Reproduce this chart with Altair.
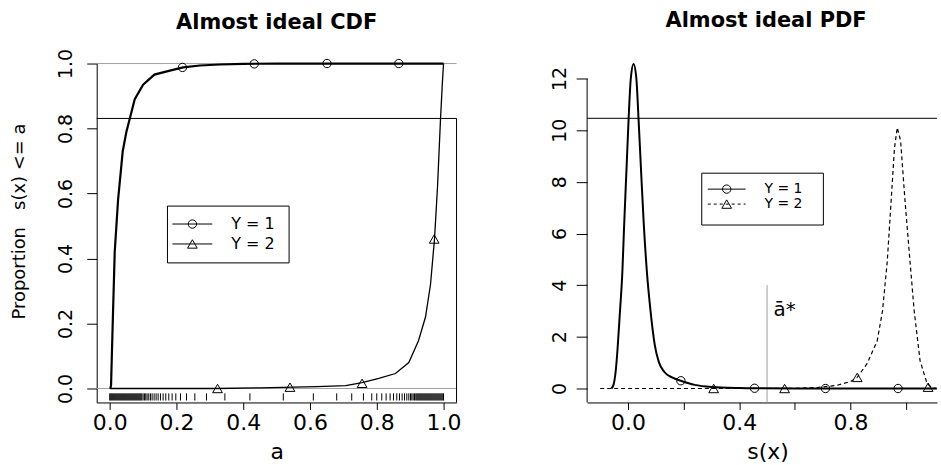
import altair as alt
import pandas as pd

FONT = "DejaVu Sans"

# ---------------- left panel: "Almost ideal CDF" ----------------
cdf_y1_a = [0.002, 0.004, 0.009, 0.015, 0.025, 0.039, 0.050, 0.060, 0.075, 0.100,
            0.134, 0.180, 0.220, 0.270, 0.330, 0.400, 0.500, 0.600, 0.700, 0.800,
            0.900, 1.000]
cdf_y1_v = [0.000, 0.010, 0.200, 0.420, 0.580, 0.730, 0.790, 0.830, 0.890, 0.935,
            0.966, 0.978, 0.988, 0.994, 0.997, 0.999, 1.000, 1.000, 1.000, 1.000,
            1.000, 1.000]
cdf_y2_a = [0.000, 0.320, 0.450, 0.550, 0.620, 0.707, 0.756, 0.806, 0.856, 0.896,
            0.925, 0.946, 0.961, 0.973, 0.982, 0.991, 0.996, 1.000]
cdf_y2_v = [0.000, 0.000, 0.002, 0.004, 0.006, 0.009, 0.018, 0.031, 0.046, 0.080,
            0.147, 0.220, 0.320, 0.460, 0.620, 0.830, 0.930, 1.000]
cdf_y1_mark_a = [0.218, 0.433, 0.651, 0.866]
cdf_y1_mark_v = [0.988, 0.999, 1.000, 1.000]
cdf_y2_mark_a = [0.323, 0.540, 0.756, 0.972]
cdf_y2_mark_v = [0.000, 0.004, 0.016, 0.460]
rug_a = [0.000, 0.003, 0.006, 0.009, 0.012, 0.015, 0.018, 0.021, 0.024, 0.027,
         0.030, 0.033, 0.036, 0.039, 0.042, 0.045, 0.048, 0.051, 0.054, 0.057,
         0.060, 0.063, 0.066, 0.069, 0.072, 0.075, 0.078, 0.081, 0.084, 0.087,
         0.090, 0.093, 0.096, 0.100, 0.104, 0.108, 0.112, 0.117, 0.122, 0.127,
         0.133, 0.139, 0.145, 0.152, 0.160, 0.168, 0.177, 0.187, 0.198, 0.212,
         0.230, 0.255, 0.290, 0.345, 0.420, 0.520, 0.610, 0.680, 0.725, 0.760,
         0.785, 0.800, 0.815, 0.828, 0.840, 0.850, 0.860, 0.868, 0.876, 0.883,
         0.890, 0.896, 0.901, 0.905, 0.909, 0.913, 0.917, 0.920, 0.923, 0.926,
         0.929, 0.932, 0.935, 0.938, 0.941, 0.944, 0.947, 0.950, 0.953, 0.956,
         0.959, 0.962, 0.965, 0.968, 0.971, 0.974, 0.977, 0.980, 0.983, 0.986,
         0.989, 0.992, 0.995, 0.998, 1.000]
cdf_ticks = [0.0, 0.2, 0.4, 0.6, 0.8, 1.0]
cdf_gray_levels = [0.0, 1.0]
cdf_box_top = [0.831]
cdf_x_domain = [-0.039, 1.039]
cdf_y_domain = [-0.043, 1.0]

# ---------------- right panel: "Almost ideal PDF" ----------------
pdf_y1_s = [-0.060, -0.052, -0.045, -0.038, -0.030, -0.020, -0.014, -0.005, 0.002, 0.010,
            0.020, 0.030, 0.038, 0.048, 0.057, 0.068, 0.080, 0.096, 0.110, 0.130,
            0.160, 0.190, 0.240, 0.300, 0.400, 0.460, 0.600, 0.800, 1.000, 1.110]
pdf_y1_v = [0.00, 0.15, 0.60, 1.47, 2.80, 4.60, 6.30, 8.60, 10.40, 12.00,
            12.56, 12.00, 10.40, 8.20, 6.30, 4.50, 3.10, 1.70, 1.05, 0.65,
            0.42, 0.30, 0.14, 0.06, 0.02, 0.01, 0.00, 0.00, 0.00, 0.00]
pdf_y2_s = [-0.100, 0.400, 0.500, 0.600, 0.680, 0.750, 0.800, 0.824, 0.860, 0.896,
            0.915, 0.932, 0.946, 0.958, 0.968, 0.980, 0.996, 1.014, 1.029, 1.050,
            1.075, 1.090, 1.110]
pdf_y2_v = [0.00, 0.00, 0.00, 0.01, 0.04, 0.12, 0.27, 0.43, 0.97, 1.85,
            3.00, 4.90, 7.26, 9.30, 10.10, 9.60, 7.26, 4.90, 3.00, 1.08,
            0.20, 0.05, 0.00]
pdf_y1_mark_s = [0.190, 0.455, 0.710, 0.971]
pdf_y1_mark_v = [0.30, 0.01, 0.00, 0.00]
pdf_y2_mark_s = [0.308, 0.563, 0.824, 1.079]
pdf_y2_mark_v = [0.00, 0.00, 0.43, 0.05]
pdf_x_ticks = [0.0, 0.2, 0.4, 0.6, 0.8, 1.0]
pdf_y_ticks = [0, 2, 4, 6, 8, 10, 12]
pdf_axis_span = [-0.54, 12.0]
pdf_box_top = [10.46]
a_star = [0.5]
a_star_top = [4.0]
a_star_label = ["ā*"]
a_star_label_pos = [0.523, 2.82]
pdf_x_domain = [-0.147, 1.111]
pdf_y_domain = [-0.54, 12.58]

legend_labels = ["Y = 1", "Y = 2"]


def one_row():
    return alt.Data(values=[{"k": 0}])


def legend_layers(box, rows, line_x, mark_x, text_x, dashes, font_size):
    """Legend drawn inside the plot area (pixel layout)."""
    layers = [
        alt.Chart(one_row()).mark_rect(fill="white", stroke="black", strokeWidth=1).encode(
            x=alt.value(box[0]), x2=alt.value(box[2]), y=alt.value(box[1]), y2=alt.value(box[3]))
    ]
    shapes = ["circle", "triangle-up"]
    sizes = [70, 95]
    for i, lab in enumerate(legend_labels):
        rule_kw = dict(color="black", strokeWidth=1)
        if dashes[i]:
            rule_kw["strokeDash"] = dashes[i]
        layers.append(alt.Chart(one_row()).mark_rule(**rule_kw).encode(
            x=alt.value(line_x[0]), x2=alt.value(line_x[1]), y=alt.value(rows[i])))
        layers.append(alt.Chart(one_row()).mark_point(
            shape=shapes[i], filled=False, size=sizes[i], color="black", strokeWidth=1, opacity=1).encode(
            x=alt.value(mark_x), y=alt.value(rows[i])))
        layers.append(alt.Chart(one_row()).mark_text(
            align="left", baseline="middle", font=FONT, fontSize=font_size, color="black").encode(
            x=alt.value(text_x), y=alt.value(rows[i]), text=alt.value(lab)))
    return layers


# ---------- left chart ----------
lx = alt.Scale(domain=cdf_x_domain, nice=False, zero=False)
ly = alt.Scale(domain=cdf_y_domain, nice=False, zero=False)
lax = alt.Axis(values=cdf_ticks, format=".1f", title="a", tickSize=7, labelPadding=3,
               titlePadding=8, labelFontSize=22, titleFontSize=22, labelFlush=False,
               labelOverlap=False, grid=False)
lay = alt.Axis(values=cdf_ticks, format=".1f", title="Proportion\u00a0\u00a0\u00a0s(x) <= a",
               tickSize=10, labelAngle=270, labelAlign="center", labelBaseline="alphabetic",
               labelPadding=15, labelFontSize=19, titleFontSize=18, titleAngle=270,
               titleAlign="center", titleBaseline="alphabetic", titleX=-72, titleY=158,
               labelFlush=False, labelOverlap=False, grid=False)


def LX(field):
    return alt.X(f"{field}:Q", scale=lx, axis=lax)


def LY(field):
    return alt.Y(f"{field}:Q", scale=ly, axis=lay)


gray_df = pd.DataFrame({"v": cdf_gray_levels})
left_gray = alt.Chart(gray_df).mark_rule(color="#a0a0a0", strokeWidth=1).encode(
    y=LY("v"), x=alt.XDatum(cdf_x_domain[0], type="quantitative", scale=lx, axis=lax),
    x2=alt.X2Datum(cdf_x_domain[1]))
left_top = alt.Chart(pd.DataFrame({"v": cdf_box_top})).mark_rule(color="black", strokeWidth=1).encode(
    y=LY("v"), x=alt.XDatum(cdf_x_domain[0], type="quantitative", scale=lx, axis=lax),
    x2=alt.X2Datum(cdf_x_domain[1]))
left_right = alt.Chart(pd.DataFrame({"a": [cdf_x_domain[1]], "v": cdf_box_top})).mark_rule(
    color="black", strokeWidth=1).encode(
    x=LX("a"), y=LY("v"), y2=alt.Y2Datum(cdf_y_domain[0]))
rug = alt.Chart(pd.DataFrame({"a": rug_a})).mark_rule(color="black", strokeWidth=1).encode(
    x=LX("a"), y=alt.YDatum(-0.037, type="quantitative", scale=ly, axis=lay),
    y2=alt.Y2Datum(-0.015))
l_line2 = alt.Chart(pd.DataFrame({"a": cdf_y2_a, "v": cdf_y2_v})).mark_line(
    color="black", strokeWidth=1.3).encode(x=LX("a"), y=LY("v"), order="a:Q")
l_line1 = alt.Chart(pd.DataFrame({"a": cdf_y1_a, "v": cdf_y1_v})).mark_line(
    color="black", strokeWidth=2.2).encode(x=LX("a"), y=LY("v"), order="a:Q")
l_pts1 = alt.Chart(pd.DataFrame({"a": cdf_y1_mark_a, "v": cdf_y1_mark_v})).mark_point(
    shape="circle", filled=False, size=70, color="black", strokeWidth=1, opacity=1).encode(
    x=LX("a"), y=LY("v"))
l_pts2 = alt.Chart(pd.DataFrame({"a": cdf_y2_mark_a, "v": cdf_y2_mark_v})).mark_point(
    shape="triangle-up", filled=False, size=95, color="black", strokeWidth=1, opacity=1).encode(
    x=LX("a"), y=LY("v"))

left_legend = legend_layers(box=(71, 143, 193, 200), rows=(161, 181), line_x=(76, 116),
                            mark_x=96, text_x=135, dashes=(None, None), font_size=16)

left = alt.layer(left_gray, left_top, left_right, rug, l_line2, l_line1, l_pts1, l_pts2,
                 *left_legend).properties(
    width=361, height=340,
    title=alt.TitleParams("Almost ideal CDF", font=FONT, fontSize=21, fontWeight="bold",
                          anchor="middle", baseline="alphabetic", offset=-1, color="black"))

# ---------- right chart ----------
rx = alt.Scale(domain=pdf_x_domain, nice=False, zero=False)
ry = alt.Scale(domain=pdf_y_domain, nice=False, zero=False)
rax = alt.Axis(values=pdf_x_ticks, format=".1f", title="s(x)", tickSize=7, labelPadding=3,
               titlePadding=8, labelFontSize=22, titleFontSize=22, labelFlush=False,
               labelOverlap=False, grid=False, titleX=181,
               labelExpr="round(datum.value * 10) % 4 == 0 ? datum.label : ''")
ray = alt.Axis(values=pdf_y_ticks, format="d", title=None, tickSize=11, labelAngle=270,
               labelAlign="center", labelBaseline="alphabetic", labelPadding=11,
               labelFontSize=19, labelFlush=False, labelOverlap=False, grid=False, domain=False)


def RX(field):
    return alt.X(f"{field}:Q", scale=rx, axis=rax)


def RY(field):
    return alt.Y(f"{field}:Q", scale=ry, axis=ray)


right_axis_line = alt.Chart(pd.DataFrame({"s": [pdf_x_domain[0]], "v": [pdf_axis_span[1]]})).mark_rule(
    color="black", strokeWidth=1).encode(x=RX("s"), y=RY("v"), y2=alt.Y2Datum(pdf_axis_span[0]))
right_top = alt.Chart(pd.DataFrame({"v": pdf_box_top})).mark_rule(color="black", strokeWidth=1).encode(
    y=RY("v"), x=alt.XDatum(pdf_x_domain[0], type="quantitative", scale=rx, axis=rax),
    x2=alt.X2Datum(pdf_x_domain[1]))
astar_rule = alt.Chart(pd.DataFrame({"s": a_star, "v": a_star_top})).mark_rule(
    color="#a0a0a0", strokeWidth=1).encode(x=RX("s"), y=RY("v"), y2=alt.Y2Datum(pdf_y_domain[0]))
astar_text = alt.Chart(pd.DataFrame({"s": [a_star_label_pos[0]], "v": [a_star_label_pos[1]],
                                     "t": a_star_label})).mark_text(
    align="left", baseline="alphabetic", font=FONT, fontSize=20, color="black").encode(
    x=RX("s"), y=RY("v"), text="t:N")
r_line2 = alt.Chart(pd.DataFrame({"s": pdf_y2_s, "v": pdf_y2_v})).mark_line(
    color="black", strokeWidth=1.2, strokeDash=[4, 3]).encode(x=RX("s"), y=RY("v"), order="s:Q")
r_line1 = alt.Chart(pd.DataFrame({"s": pdf_y1_s, "v": pdf_y1_v})).mark_line(
    color="black", strokeWidth=2, interpolate="monotone").encode(x=RX("s"), y=RY("v"), order="s:Q")
r_pts1 = alt.Chart(pd.DataFrame({"s": pdf_y1_mark_s, "v": pdf_y1_mark_v})).mark_point(
    shape="circle", filled=False, size=70, color="black", strokeWidth=1, opacity=1).encode(
    x=RX("s"), y=RY("v"))
r_pts2 = alt.Chart(pd.DataFrame({"s": pdf_y2_mark_s, "v": pdf_y2_mark_v})).mark_point(
    shape="triangle-up", filled=False, size=95, color="black", strokeWidth=1, opacity=1).encode(
    x=RX("s"), y=RY("v"))

right_legend = legend_layers(box=(115, 110, 237, 162), rows=(126, 141), line_x=(121, 159),
                             mark_x=140, text_x=178, dashes=(None, [3, 3]), font_size=14)

right = alt.layer(right_axis_line, right_top, astar_rule, astar_text, r_line2, r_line1,
                  r_pts1, r_pts2, *right_legend).properties(
    width=351, height=340,
    title=alt.TitleParams("Almost ideal PDF", font=FONT, fontSize=21, fontWeight="bold",
                          anchor="middle", baseline="alphabetic", offset=12, dx=4, color="black"))

chart = alt.hconcat(left, right, spacing=89).properties(
    padding={"left": 11, "top": 9, "right": 0, "bottom": 0},
    background="white",
).configure_view(stroke=None).configure_axis(
    domainColor="black", tickColor="black", labelColor="black", titleColor="black",
    labelFont=FONT, titleFont=FONT, titleFontWeight="normal", domainWidth=1, tickWidth=1,
).resolve_scale(x="independent", y="independent")

chart.save("out.html", embed_options={"renderer": "svg", "actions": False})
